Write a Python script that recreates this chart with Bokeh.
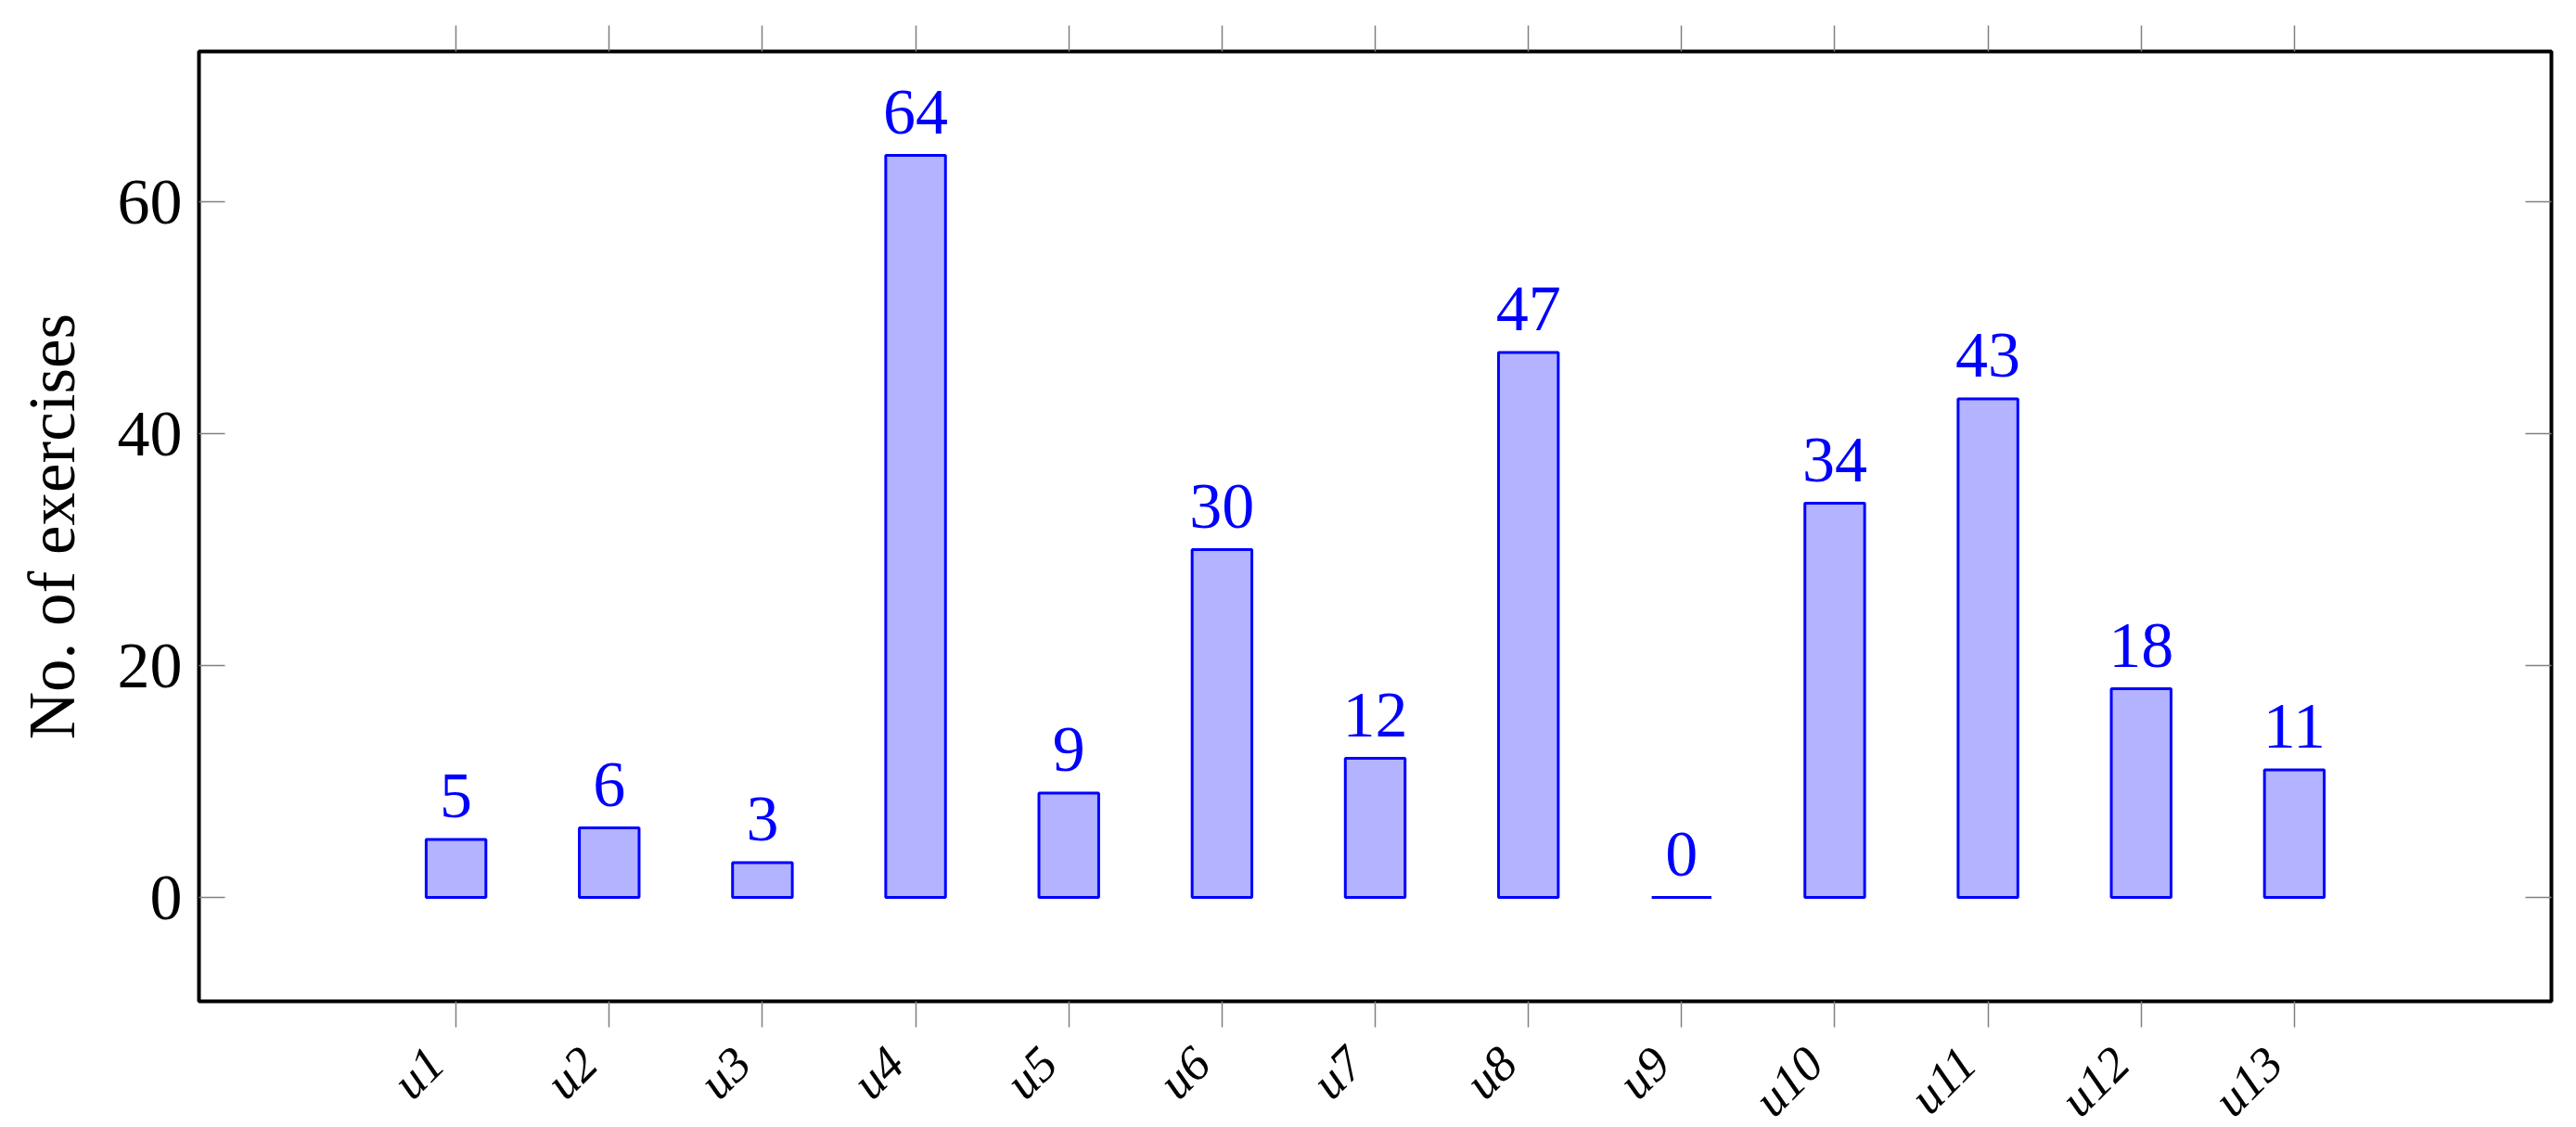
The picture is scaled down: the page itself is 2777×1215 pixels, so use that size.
from bokeh.plotting import figure
from bokeh.models import Range1d, FixedTicker, LinearAxis, CustomJSTickFormatter, ColumnDataSource
from bokeh.layouts import column
from bokeh.core.properties import value
from bokeh.embed import file_html
from bokeh.resources import INLINE
import math

categories = ["u1", "u2", "u3", "u4", "u5", "u6", "u7", "u8", "u9", "u10", "u11", "u12", "u13"]
values = [5, 6, 3, 64, 9, 30, 12, 47, 0, 34, 43, 18, 11]
y_ticks = [0, 20, 40, 60]
y_label = "No. of exercises"

xpos = list(range(1, len(categories) + 1))
src = ColumnDataSource(dict(x=xpos, top=values, label=[str(v) for v in values]))

FONT = "Liberation Serif"
GRAY = "#808080"
W = 2777
H_MAIN = 1109
H_LAB = 106

p = figure(width=W, height=H_MAIN, output_backend="svg", toolbar_location=None,
           x_range=Range1d(-0.678, 14.678), y_range=Range1d(-8.96, 72.96),
           min_border_left=214, min_border_right=27, min_border_top=55, min_border_bottom=30)
p.background_fill_color = "white"
p.border_fill_color = "white"
p.outline_line_color = "black"
p.outline_line_width = 4
p.xgrid.visible = False
p.ygrid.visible = False

p.vbar(x="x", top="top", bottom=0, width=0.39, source=src,
       fill_color="#B3B3FF", line_color="#0000FF", line_width=3)
p.text(x="x", y="top", text="label", source=src, text_align="center",
       text_baseline="middle", y_offset=-47, text_color="#0000FF",
       text_font=value(FONT), text_font_size="70px")

empty = CustomJSTickFormatter(code="return ''")

# bottom axis: ticks only (category labels are drawn rotated in the strip below)
xa = p.xaxis[0]
xa.ticker = FixedTicker(ticks=xpos)
xa.formatter = empty
xa.major_label_text_font_size = "1px"
xa.major_label_standoff = 0
xa.major_tick_out = 28
xa.major_tick_in = 0
xa.minor_tick_out = 0
xa.minor_tick_in = 0
xa.major_tick_line_color = GRAY
xa.major_tick_line_width = 1.5
xa.axis_line_color = None

# left axis
ya = p.yaxis[0]
ya.ticker = FixedTicker(ticks=y_ticks)
ya.major_label_text_font = FONT
ya.major_label_text_font_size = "70px"
ya.major_label_text_color = "black"
ya.major_label_standoff = 18
ya.major_tick_in = 28
ya.major_tick_out = 0
ya.minor_tick_out = 0
ya.minor_tick_in = 0
ya.major_tick_line_color = GRAY
ya.major_tick_line_width = 1.5
ya.axis_line_color = None
ya.axis_label = y_label
ya.axis_label_text_font = FONT
ya.axis_label_text_font_style = "normal"
ya.axis_label_text_font_size = "71px"
ya.axis_label_text_color = "black"
ya.axis_label_standoff = 29

top = LinearAxis(ticker=FixedTicker(ticks=xpos), formatter=empty,
                 major_tick_out=28, major_tick_in=0, minor_tick_out=0, minor_tick_in=0,
                 major_tick_line_color=GRAY, major_tick_line_width=1.5,
                 axis_line_color=None, major_label_standoff=0, major_label_text_font_size="1px")
p.add_layout(top, "above")

right = LinearAxis(ticker=FixedTicker(ticks=y_ticks), formatter=empty,
                   major_tick_out=0, major_tick_in=28, minor_tick_out=0, minor_tick_in=0,
                   major_tick_line_color=GRAY, major_tick_line_width=1.5,
                   axis_line_color=None, major_label_standoff=0, major_label_text_font_size="1px")
p.add_layout(right, "right")

# strip below the plot holding the rotated category labels, sharing the x scale
p2 = figure(width=W, height=H_LAB, output_backend="svg", toolbar_location=None,
            x_range=p.x_range, y_range=Range1d(-H_LAB, 0),
            x_axis_type=None, y_axis_type=None,
            min_border_left=214, min_border_right=27, min_border_top=0, min_border_bottom=0)
p2.outline_line_color = None
p2.background_fill_color = "white"
p2.border_fill_color = "white"
p2.xgrid.visible = False
p2.ygrid.visible = False
lab_src = ColumnDataSource(dict(x=xpos, y=[0] * len(xpos), text=categories))
p2.text(x="x", y="y", text="text", source=lab_src, angle=math.pi / 4,
        text_align="right", text_baseline="middle", x_offset=-22, y_offset=28,
        text_font=value(FONT), text_font_style="italic", text_font_size="53px",
        text_color="black")

layout = column(p, p2, spacing=0)
open("out.html", "w").write(file_html(layout, INLINE))
